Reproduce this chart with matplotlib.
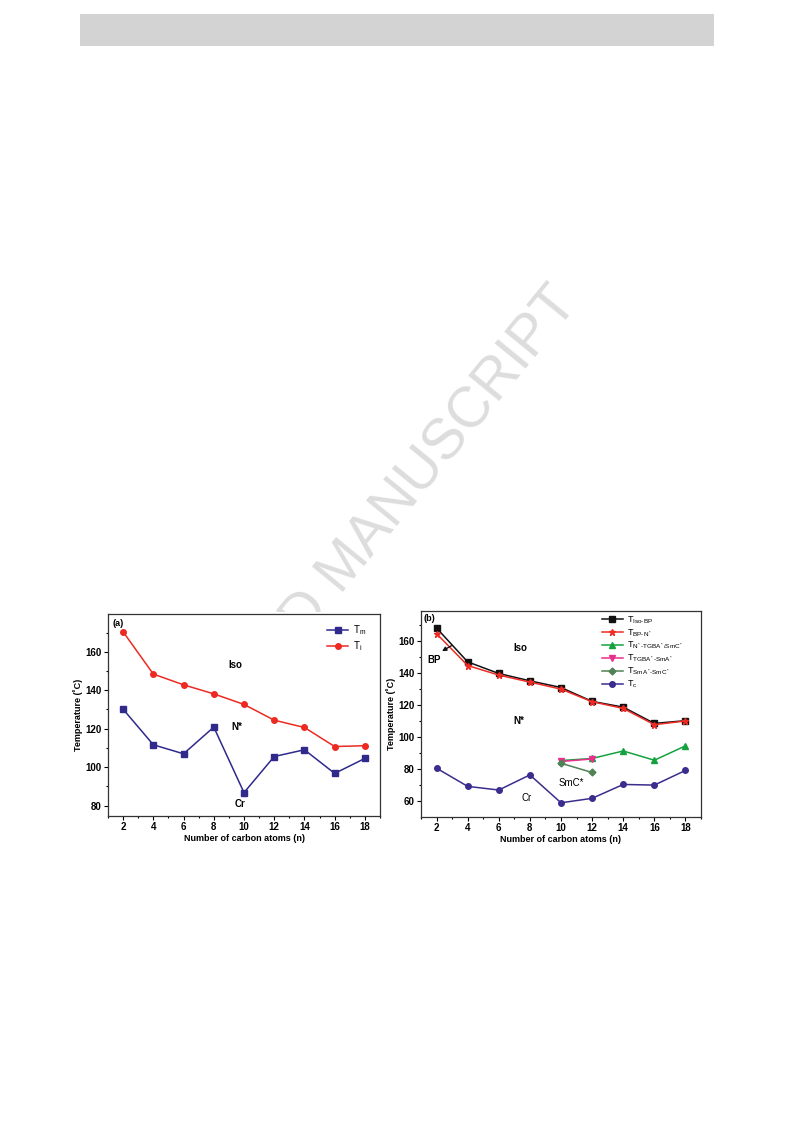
import matplotlib
matplotlib.use("Agg")
import matplotlib.pyplot as plt
from matplotlib.patches import Rectangle
from matplotlib.ticker import MultipleLocator

plt.rcParams['font.family'] = ['Liberation Sans', 'DejaVu Sans']
plt.rcParams['mathtext.fontset'] = 'custom'
plt.rcParams['mathtext.rm'] = 'Liberation Sans'
plt.rcParams['mathtext.it'] = 'Liberation Sans'

# panel (a) data
n = [2, 4, 6, 8, 10, 12, 14, 16, 18]
t_m = [130.1, 111.6, 106.9, 120.8, 86.7, 105.5, 109.0, 96.7, 104.5]
t_i = [170.4, 148.4, 142.8, 138.1, 132.6, 124.4, 120.6, 110.7, 111.1]

# panel (b) data
t_iso_bp = [168.3, 147.1, 139.8, 135.2, 131.0, 122.3, 118.7, 108.5, 110.2]
t_bp_n = [164.8, 144.8, 138.8, 134.4, 130.0, 122.1, 117.9, 107.7, 110.0]
n_smc = [10, 12, 14, 16, 18]
t_n_tgba = [85.2, 86.5, 91.2, 85.4, 94.4]
n_short = [10, 12]
t_tgba_sma = [84.6, 86.2]
t_sma_smc = [83.5, 77.7]
t_c = [80.4, 69.0, 66.7, 76.2, 58.7, 61.5, 70.2, 69.8, 79.0]

W, H = 793, 1121
fig = plt.figure(figsize=(W / 100, H / 100), dpi=100)


def fx(px):
    return px / W


def fy(py):
    return 1 - py / H


# page decorations: grey header bar and the watermark
fig.add_artist(Rectangle((fx(80), fy(46)), fx(714) - fx(80), fy(14) - fy(46),
                         transform=fig.transFigure, facecolor='#d3d3d3',
                         edgecolor='none', zorder=-2))
fig.text(fx(345), fy(566), 'ACCEPTED MANUSCRIPT', rotation=50.7,
         rotation_mode='anchor', ha='center', va='center', fontsize=41,
         color='#dddddd', zorder=-2)
# chart images are opaque white and hide part of the watermark
for x0, y0, x1, y1 in [(70, 612, 393, 848), (396, 604, 707, 848)]:
    fig.add_artist(Rectangle((fx(x0), fy(y1)), fx(x1) - fx(x0), fy(y0) - fy(y1),
                             transform=fig.transFigure, facecolor='white',
                             edgecolor='none', zorder=-1))


def style_axes(ax, ylim, ymajor):
    ax.set_xlim(1, 19)
    ax.set_ylim(*ylim)
    ax.set_xticks(n)
    ax.xaxis.set_minor_locator(MultipleLocator(1))
    ax.yaxis.set_major_locator(MultipleLocator(ymajor))
    ax.yaxis.set_minor_locator(MultipleLocator(ymajor / 2))
    ax.tick_params(which='major', direction='out', length=3, width=0.8,
                   labelsize=7, pad=1.5)
    ax.tick_params(which='minor', direction='out', length=1.6, width=0.8)
    ax.tick_params(top=False, right=False)
    for lab in ax.get_xticklabels() + ax.get_yticklabels():
        lab.set_fontweight('bold')
    for sp in ax.spines.values():
        sp.set_linewidth(0.9)
        sp.set_color('#333333')
    ax.set_xlabel('Number of carbon atoms (n)', fontsize=6.5,
                  fontweight='bold', labelpad=1.5)
    ax.set_ylabel('Temperature (˚C)', fontsize=6.5, fontweight='bold',
                  labelpad=2)


# panel (a)
ax1 = fig.add_axes([fx(108), fy(815.5), fx(380) - fx(108), fy(614.3) - fy(815.5)])
ax1.plot(n, t_m, '-s', color='#2f2a8c', lw=1.1, ms=4, label='T$_m$')
ax1.plot(n, t_i, '-o', color='#ec2a22', lw=1.1, ms=4, label='T$_i$')
style_axes(ax1, (74.8, 179.5), 20)
ax1.legend(loc='upper left', bbox_to_anchor=(0.805, 0.955), frameon=False,
           fontsize=7, handlelength=2.2, handletextpad=0.5, labelspacing=0.25,
           borderpad=0, borderaxespad=0)
ax1.text(1.33, 174.5, '(a)', fontsize=6.5, fontweight='bold', va='center')
ax1.text(9.4, 152.9, 'Iso', fontsize=7, fontweight='bold', ha='center', va='center')
ax1.text(9.52, 121, 'N*', fontsize=7, fontweight='bold', ha='center', va='center')
ax1.text(9.74, 81, 'Cr', fontsize=7, fontweight='bold', ha='center', va='center')

# panel (b)
ax2 = fig.add_axes([fx(421), fy(816.5), fx(701) - fx(421), fy(611) - fy(816.5)])
ax2.plot(n, t_iso_bp, '-s', color='#111111', lw=1.1, ms=4,
         label=r'T$_{\mathregular{Iso\text{-}BP}}$')
ax2.plot(n, t_bp_n, '-*', color='#ee2b24', lw=1.1, ms=5,
         label=r'T$_{\mathregular{BP\text{-}N^*}}$')
ax2.plot(n_smc, t_n_tgba, '-^', color='#14a23f', lw=1.1, ms=4,
         label=r'T$_{\mathregular{N^*\text{-}TGBA^*/SmC^*}}$')
ax2.plot(n_short, t_tgba_sma, '-v', color='#ea2e8c', lw=1.1, ms=4,
         label=r'T$_{\mathregular{TGBA^*\text{-}SmA^*}}$')
ax2.plot(n_short, t_sma_smc, '-D', color='#4f8254', lw=1.1, ms=3.5,
         label=r'T$_{\mathregular{SmA^*\text{-}SmC^*}}$')
ax2.plot(n, t_c, '-o', color='#3a2d8e', lw=1.1, ms=4, label='T$_c$')
style_axes(ax2, (50.1, 179), 20)
ax2.legend(loc='upper left', bbox_to_anchor=(0.645, 0.985), frameon=False,
           fontsize=6.5, handlelength=2.4, handletextpad=0.4, labelspacing=0.16,
           borderpad=0, borderaxespad=0)
ax2.text(1.19, 174.6, '(b)', fontsize=6.5, fontweight='bold', va='center')
ax2.text(7.36, 155.8, 'Iso', fontsize=7, fontweight='bold', ha='center', va='center')
ax2.text(1.86, 148.3, 'BP', fontsize=7, fontweight='bold', ha='center', va='center')
ax2.annotate('', xy=(2.35, 153.8), xytext=(2.95, 157.2),
             arrowprops=dict(arrowstyle='-|>', color='#111111', lw=1.0,
                             mutation_scale=6, shrinkA=0, shrinkB=0))
ax2.text(7.3, 110, 'N*', fontsize=7, fontweight='bold', ha='center', va='center')
ax2.text(10.69, 70.9, 'SmC*', fontsize=7, ha='center', va='center')
ax2.text(7.79, 61.5, 'Cr', fontsize=7, ha='center', va='center')

fig.savefig('out.png', dpi=100)
